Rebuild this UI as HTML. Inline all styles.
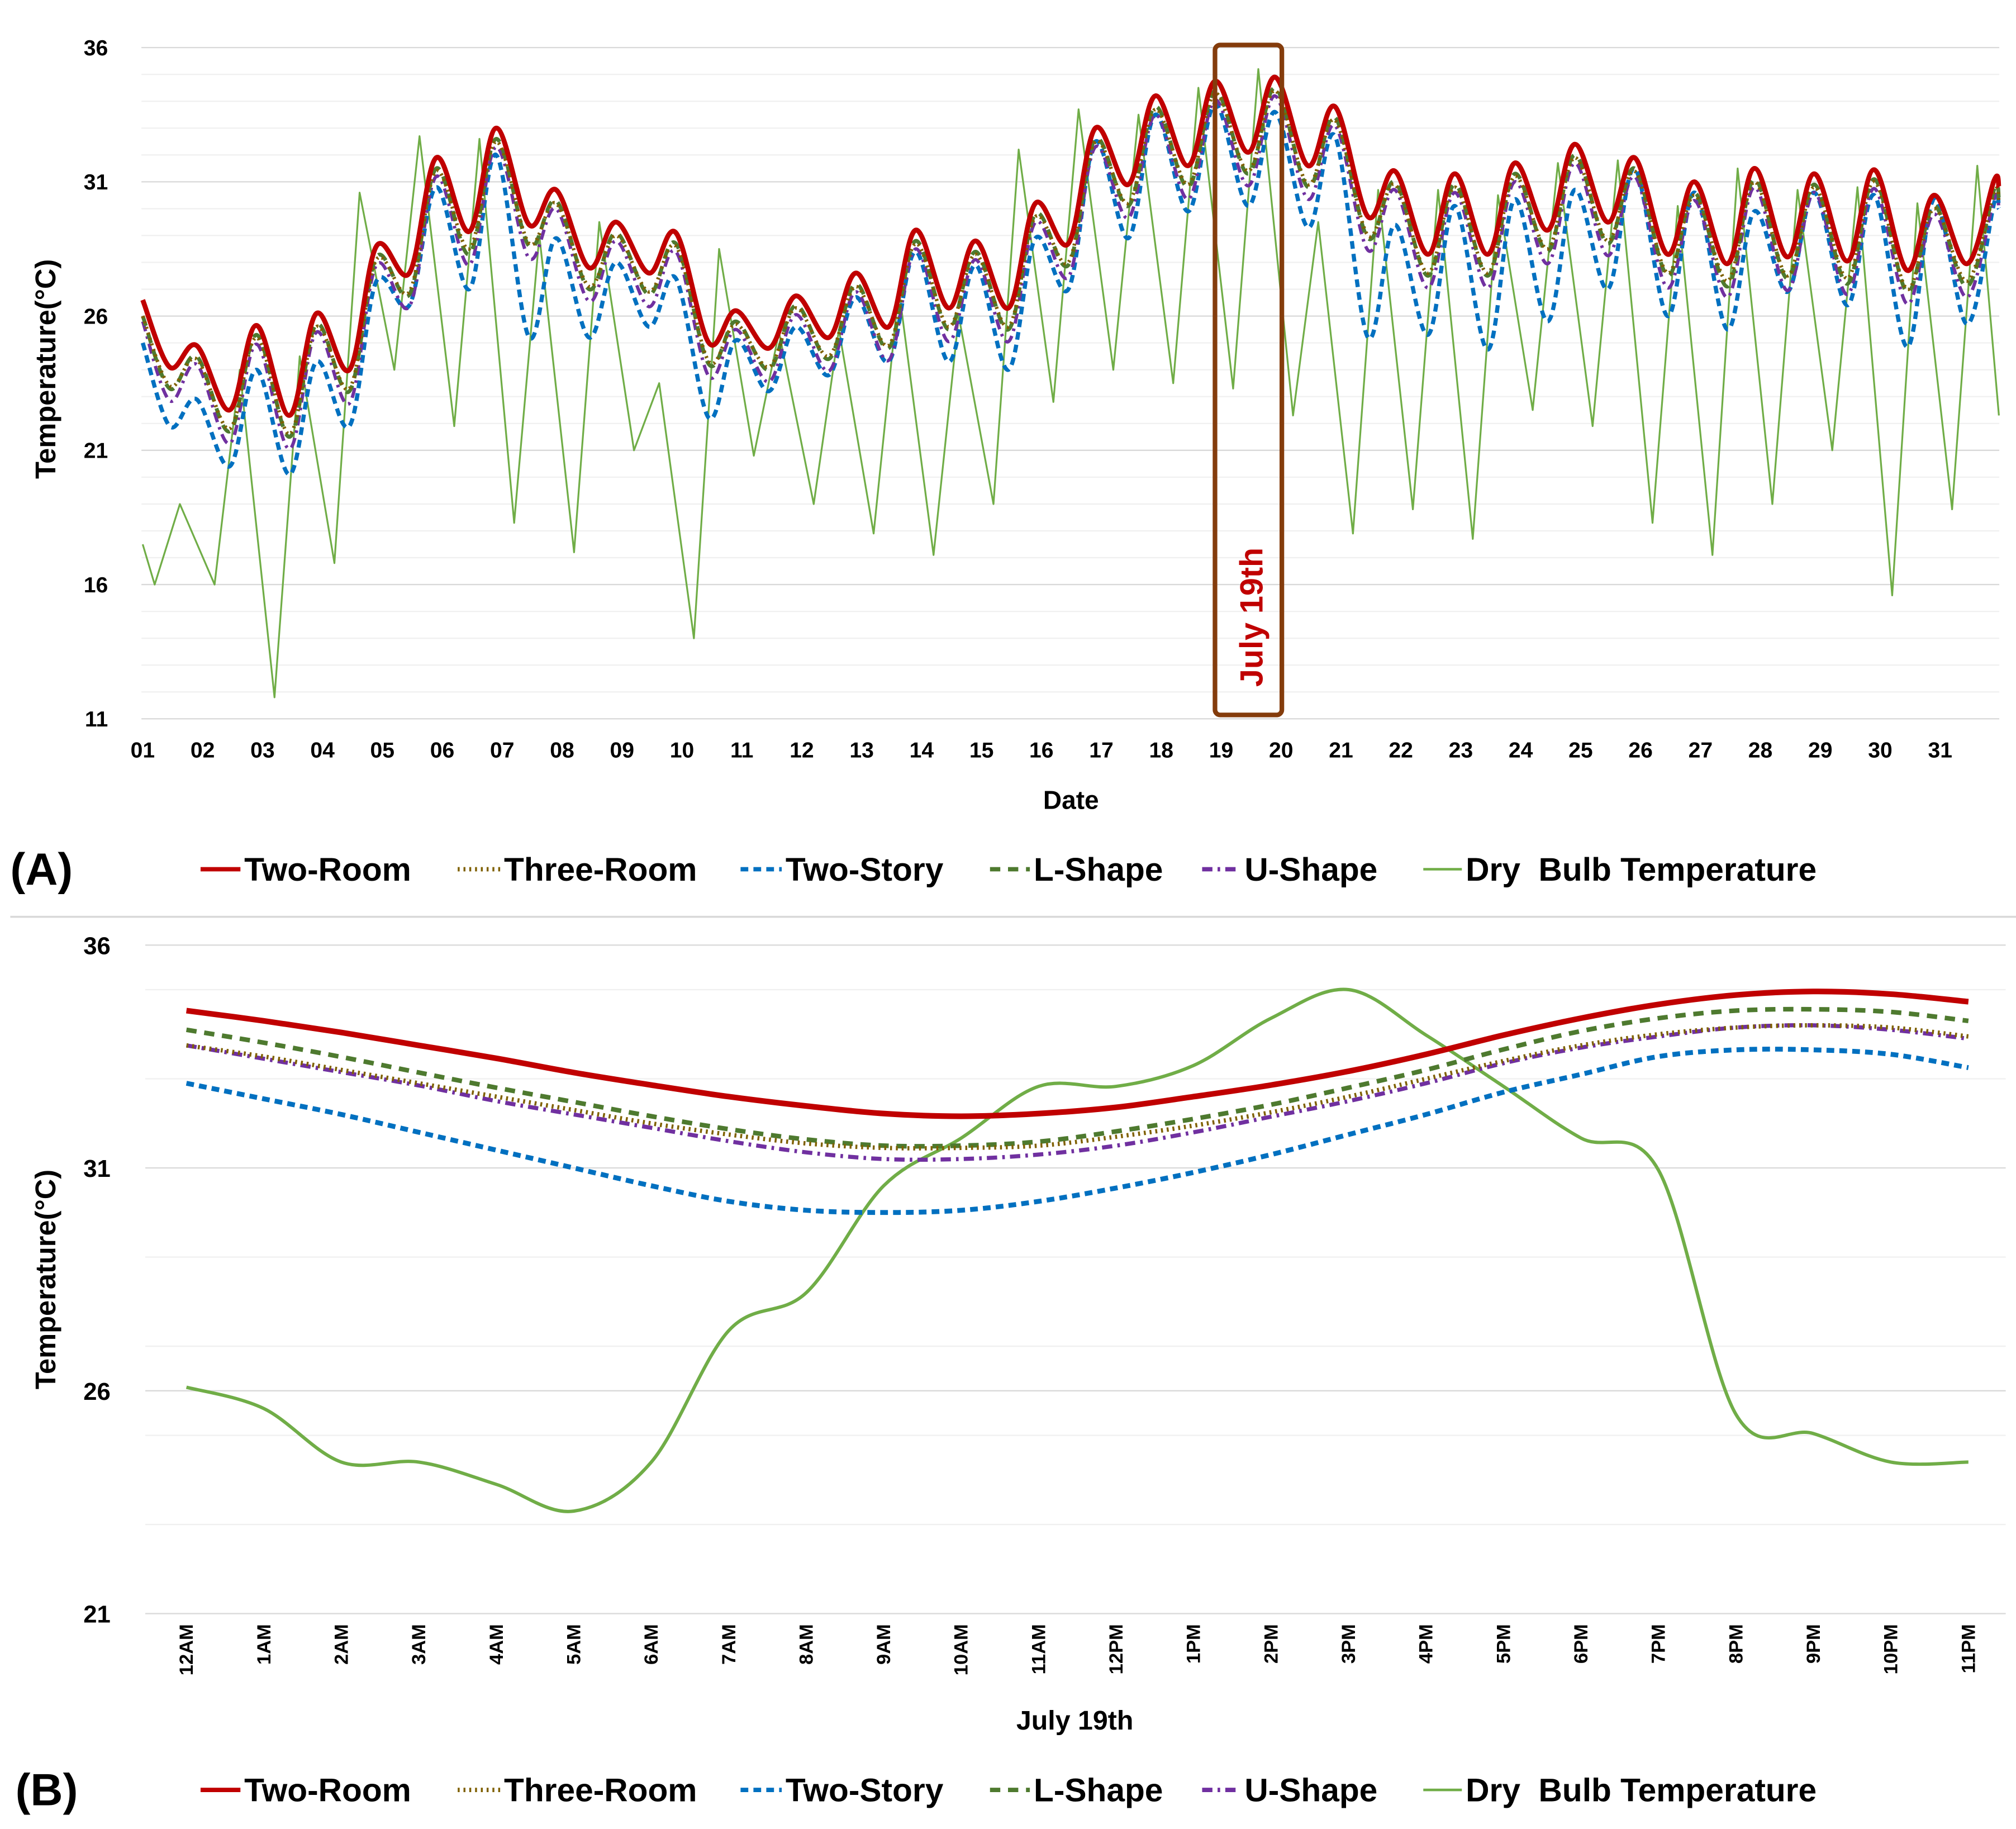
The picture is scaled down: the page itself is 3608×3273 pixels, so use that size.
<!DOCTYPE html>
<html><head><meta charset="utf-8"><style>
html,body{margin:0;padding:0;background:#fff;}
svg{display:block;}
text{font-family:"Liberation Sans",sans-serif;font-weight:bold;fill:#000;}
</style></head><body>
<svg id="chart" width="3608" height="3273" viewBox="0 0 1568 1422.4" preserveAspectRatio="none" xmlns="http://www.w3.org/2000/svg"></svg>
<script>
// ---------- Panel A data (July, daily troughs/peaks) ----------
const aDayLabels = ["01","02","03","04","05","06","07","08","09","10","11","12","13","14","15","16","17","18","19","20","21","22","23","24","25","26","27","28","29","30","31"];
const aYTicks = [11,16,21,26,31,36];
const twoRoomStart = 26.6, twoRoomEnd = 30.8;
const twoRoomTrough = [24.1,22.5,22.3,24.0,27.6,29.15,29.4,27.8,27.6,25.0,24.8,25.2,25.6,26.3,26.3,28.7,30.9,31.6,32.1,31.6,29.7,28.3,28.3,29.2,29.5,28.3,27.95,28.2,28.05,27.7,27.95];
const twoRoomPeak = [24.9,25.65,26.1,28.6,31.9,33.0,30.7,29.5,29.1,26.2,26.75,27.6,29.2,28.8,30.2,33.0,34.2,34.75,34.9,33.8,31.4,31.3,31.7,32.4,31.9,31.0,31.5,31.3,31.45,30.5,31.05];
const threeRoomStart = 26.0, threeRoomEnd = 30.3;
const threeRoomTrough = [23.4,21.8,21.6,23.3,26.9,28.5,28.7,27.1,26.9,24.3,24.1,24.5,24.9,25.6,25.6,28.0,30.2,30.9,31.4,30.9,29.0,27.6,27.6,28.5,28.8,27.6,27.3,27.5,27.4,27.0,27.3];
const threeRoomPeak = [24.4,25.2,25.6,28.1,31.4,32.5,30.2,29.0,28.6,25.7,26.3,27.1,28.7,28.3,29.7,32.5,33.7,34.3,34.4,33.3,30.9,30.8,31.2,31.9,31.4,30.5,31.0,30.8,31.0,30.0,30.6];
const lShapeStart = 26.0, lShapeEnd = 30.4;
const lShapeTrough = [23.3,21.7,21.5,23.2,26.8,28.3,28.6,27.0,26.8,24.2,24.0,24.4,24.8,25.5,25.5,27.9,30.1,30.8,31.3,30.8,28.9,27.5,27.5,28.4,28.7,27.5,27.1,27.4,27.2,26.9,27.1];
const lShapePeak = [24.5,25.3,25.7,28.2,31.5,32.6,30.3,29.1,28.7,25.8,26.4,27.2,28.8,28.4,29.8,32.6,33.8,34.4,34.5,33.4,31.0,30.9,31.3,32.0,31.5,30.6,31.1,30.9,31.1,30.1,30.7];
const uShapeStart = 25.8, uShapeEnd = 30.0;
const uShapeTrough = [22.85,21.25,21.05,22.75,26.35,27.9,28.15,26.55,26.35,23.75,23.55,23.95,24.35,25.05,25.05,27.45,29.65,30.35,30.85,30.35,28.45,27.05,27.05,27.95,28.25,27.05,26.7,26.95,26.8,26.45,26.7];
const uShapePeak = [24.2,24.95,25.4,27.9,31.2,32.3,30.0,28.8,28.4,25.5,26.05,26.9,28.5,28.1,29.5,32.3,33.5,34.05,34.2,33.1,30.7,30.6,31.0,31.7,31.2,30.3,30.8,30.6,30.75,29.8,30.35];
const twoStoryStart = 25.0, twoStoryEnd = 30.0;
const twoStoryTrough = [21.9,20.4,20.1,21.9,26.4,27.0,25.2,25.2,25.6,22.2,23.2,23.8,24.3,24.3,24.0,27.0,28.9,29.9,30.1,29.3,25.2,25.3,24.75,25.8,27.0,26.0,25.5,26.9,26.4,24.85,25.7];
const twoStoryPeak = [22.9,24.0,24.3,27.3,30.8,32.0,28.9,28.0,27.4,25.1,25.6,26.7,28.4,27.9,28.9,32.5,33.5,33.9,33.6,32.7,29.4,30.1,30.35,30.7,31.5,30.6,29.9,30.6,30.5,30.35,30.2];
const dryStart = 17.5, dryEnd = 22.3;
const dryMin = [16,16,11.8,16.8,24,21.9,18.3,17.2,21,14,20.8,19,17.9,17.1,19,22.8,24,23.5,23.3,22.3,17.9,18.8,17.7,22.5,21.9,18.3,17.1,19,21,15.6,18.8];
const dryMax = [19,24,24.5,30.6,32.7,32.6,29,29.5,23.5,28.5,25.4,25.5,27,26,32.2,33.7,33.5,34.5,35.2,29.5,30.7,30.7,30.5,31.7,31.8,30.1,31.5,30.7,30.8,30.2,31.6];

// ---------- Panel B data (July 19th hourly) ----------
const bHours = ["12AM","1AM","2AM","3AM","4AM","5AM","6AM","7AM","8AM","9AM","10AM","11AM","12PM","1PM","2PM","3PM","4PM","5PM","6PM","7PM","8PM","9PM","10PM","11PM"];
const bYTicks = [21,26,31,36];
const bTwoRoom = [34.53,34.30,34.04,33.75,33.46,33.14,32.86,32.60,32.39,32.22,32.16,32.22,32.36,32.60,32.86,33.17,33.55,33.98,34.36,34.67,34.88,34.96,34.90,34.73];
const bThreeRoom = [33.75,33.50,33.20,32.90,32.60,32.30,32.00,31.75,31.55,31.45,31.45,31.5,31.7,31.95,32.25,32.6,33.0,33.4,33.75,34.0,34.15,34.2,34.15,33.95];
const bTwoStory = [32.9,32.55,32.2,31.8,31.4,31.0,30.6,30.25,30.05,30.0,30.05,30.25,30.55,30.9,31.3,31.75,32.2,32.7,33.1,33.5,33.65,33.65,33.55,33.25];
const bLShape = [34.10,33.81,33.49,33.14,32.80,32.48,32.16,31.87,31.64,31.50,31.50,31.59,31.82,32.10,32.42,32.80,33.20,33.66,34.07,34.36,34.53,34.56,34.50,34.30];
const bUShape = [33.75,33.45,33.15,32.85,32.5,32.2,31.9,31.6,31.35,31.2,31.2,31.3,31.5,31.8,32.15,32.5,32.9,33.35,33.7,33.95,34.15,34.2,34.1,33.9];
const bDryBulb = [26.08,25.6,24.4,24.4,23.9,23.3,24.4,27.35,28.2,30.6,31.67,32.83,32.83,33.3,34.36,35.0,33.98,32.83,31.67,30.95,25.47,25.04,24.4,24.4];

const NS = "http://www.w3.org/2000/svg";
const svg = document.getElementById("chart");
function el(tag, attrs, parent, txt){
  const e = document.createElementNS(NS, tag);
  for (const k in attrs) e.setAttribute(k, attrs[k]);
  if (txt !== undefined) e.textContent = txt;
  (parent || svg).appendChild(e);
  return e;
}
function smoothPath(pts){
  let d = "M" + pts[0][0].toFixed(2) + "," + pts[0][1].toFixed(2);
  for (let i = 0; i < pts.length - 1; i++){
    const p0 = pts[Math.max(0,i-1)], p1 = pts[i], p2 = pts[i+1], p3 = pts[Math.min(pts.length-1,i+2)];
    const c1x = p1[0] + (p2[0]-p0[0])/6, c1y = p1[1] + (p2[1]-p0[1])/6;
    const c2x = p2[0] - (p3[0]-p1[0])/6, c2y = p2[1] - (p3[1]-p1[1])/6;
    d += " C" + c1x.toFixed(2)+","+c1y.toFixed(2)+" "+c2x.toFixed(2)+","+c2y.toFixed(2)+" "+p2[0].toFixed(2)+","+p2[1].toFixed(2);
  }
  return d;
}
const styles = {
  twoRoom:{stroke:"#c00000", w:3.8, dash:""},
  threeRoom:{stroke:"#7f6000", w:2.8, dash:"1.5 3"},
  twoStory:{stroke:"#0070c0", w:3.2, dash:"6 4"},
  lShape:{stroke:"#4e7a2f", w:3.0, dash:"8 6"},
  uShape:{stroke:"#7030a0", w:2.6, dash:"8 4 2 4"},
  dry:{stroke:"#70ad47", w:1.4, dash:""}
};

// ================= PANEL A =================
const aX = d => 111 + (d - 1) * 46.6;
const aY = v => 37 + (36 - v) * 20.88;
const gA = el("g", {});


for (let v = 11; v <= 36; v++){
  const ln = el("line", {x1:110, x2:1555, y1:aY(v), y2:aY(v), stroke: (v-11)%5===0 ? "#d9d9d9" : "#f0f0f0", "stroke-width":1}, gA);
  
  
}
aYTicks.forEach(v => {
  const t = el("text", {x:84, y:aY(v)+6, "text-anchor":"end", "font-size":17}, gA, String(v));
  
  
});
aDayLabels.forEach((s, i) => {
  const t = el("text", {x:aX(i+1), y:589, "text-anchor":"middle", "font-size":17}, gA, s);
  
  
});
const aXT = el("text", {x:833, y:629, "text-anchor":"middle", "font-size":20}, gA, "Date");


const aYT = el("text", {x:0, y:0, "text-anchor":"middle", "font-size":22, transform:"translate(43,287) rotate(-90)"}, gA, "Temperature(°C)");



function buildingPts(start, trough, peak, end){
  const pts = [[aX(1), aY(start)]];
  for (let i = 0; i < trough.length; i++){
    pts.push([aX(i+1.45), aY(trough[i])]);
    pts.push([aX(i+1.9), aY(peak[i])]);
  }
  pts.push([aX(31.98), aY(end)]);
  return pts;
}
const dryPts = [[aX(1), aY(dryStart)]];
for (let i = 0; i < dryMin.length; i++){
  dryPts.push([aX(i+1.2), aY(dryMin[i])]);
  dryPts.push([aX(i+1.62), aY(dryMax[i])]);
}
dryPts.push([aX(31.98), aY(dryEnd)]);
const dryA = el("polyline", {points: dryPts.map(p=>p[0].toFixed(1)+","+p[1].toFixed(1)).join(" "), fill:"none", stroke:styles.dry.stroke, "stroke-width":styles.dry.w, "stroke-linejoin":"round"}, gA);



[["twoStory",twoStoryStart,twoStoryTrough,twoStoryPeak,twoStoryEnd,"panel-a-two-story-line"],
 ["uShape",uShapeStart,uShapeTrough,uShapePeak,uShapeEnd,"panel-a-u-shape-line"],
 ["lShape",lShapeStart,lShapeTrough,lShapePeak,lShapeEnd,"panel-a-l-shape-line"],
 ["threeRoom",threeRoomStart,threeRoomTrough,threeRoomPeak,threeRoomEnd,"panel-a-three-room-line"],
 ["twoRoom",twoRoomStart,twoRoomTrough,twoRoomPeak,twoRoomEnd,"panel-a-two-room-line"]].forEach(s => {
  const st = styles[s[0]];
  const p = el("path", {d:smoothPath(buildingPts(s[1],s[2],s[3],s[4])), fill:"none", stroke:st.stroke, "stroke-width":st.w, "stroke-dasharray":st.dash}, gA);
  
  
});
const hb = el("rect", {x:945, y:35, width:52, height:521, rx:4, fill:"none", stroke:"#843c0c", "stroke-width":3.6}, gA);


const hbt = el("text", {x:0, y:0, "text-anchor":"middle", "font-size":25, style:"fill:#c00000", transform:"translate(982,480) rotate(-90)"}, gA, "July 19th");



function legend(y, label, lx){
  const g = el("g", {});
  
  
  const pl = el("text", {x:lx, y:y+12, "font-size":35}, g, label==="a" ? "(A)" : "(B)");
  
  
  const items = [["twoRoom",156,"Two-Room"],["threeRoom",356,"Three-Room"],["twoStory",576,"Two-Story"],["lShape",770,"L-Shape"],["uShape",935,"U-Shape"],["dry",1107,"Dry  Bulb Temperature"]];
  const tx = [190,392,611,804,968,1140];
  items.forEach((it, i) => {
    const st = styles[it[0]];
    const ln = el("line", {x1:it[1], x2:tx[i]-3, y1:y, y2:y, stroke:st.stroke, "stroke-width":it[0]==="dry"?2:3.4, "stroke-dasharray":st.dash}, g);
    
    
    const t = el("text", {x:tx[i], y:y+9, "font-size":25.5, style:"white-space:pre"}, g, it[2]);
    
    
  });
}
legend(676, "a", 8);
const sep = el("line", {x1:8, x2:1568, y1:713, y2:713, stroke:"#d9d9d9", "stroke-width":1.5});



// ================= PANEL B =================
const bX = i => 145 + i * 60.26;
const bY = v => 735 + (36 - v) * 34.66;
const gB = el("g", {});


for (let v = 21; v <= 36; v += 1){
  if ((v-21)%5 !== 0 && v%2 === 0) continue;
  const ln = el("line", {x1:113, x2:1560, y1:bY(v), y2:bY(v), stroke:(v-21)%5===0 ? "#d9d9d9" : "#f0f0f0", "stroke-width":1}, gB);
  
  
}
bYTicks.forEach(v => {
  const t = el("text", {x:86, y:bY(v)+7, "text-anchor":"end", "font-size":19}, gB, String(v));
  
  
});
bHours.forEach((s, i) => {
  const t = el("text", {x:0, y:0, "text-anchor":"end", "font-size":15, transform:"translate("+(bX(i)+5)+",1263) rotate(-90)"}, gB, s);
  
  
});
const bXT = el("text", {x:836, y:1345, "text-anchor":"middle", "font-size":21}, gB, "July 19th");


const bYT = el("text", {x:0, y:0, "text-anchor":"middle", "font-size":22, transform:"translate(43,995) rotate(-90)"}, gB, "Temperature(°C)");



[["dry",bDryBulb,"panel-b-dry-bulb-line"],["twoStory",bTwoStory,"panel-b-two-story-line"],["uShape",bUShape,"panel-b-u-shape-line"],
 ["lShape",bLShape,"panel-b-l-shape-line"],["threeRoom",bThreeRoom,"panel-b-three-room-line"],["twoRoom",bTwoRoom,"panel-b-two-room-line"]].forEach(s => {
  const st = styles[s[0]];
  const w = s[0]==="dry" ? 2.6 : st.w + 0.6;
  const pts = s[1].map((v,i)=>[bX(i), bY(v)]);
  const p = el("path", {d:smoothPath(pts), fill:"none", stroke:st.stroke, "stroke-width":w, "stroke-dasharray":st.dash}, gB);
  
  
});
legend(1392, "b", 12);
</script>
</body></html>
